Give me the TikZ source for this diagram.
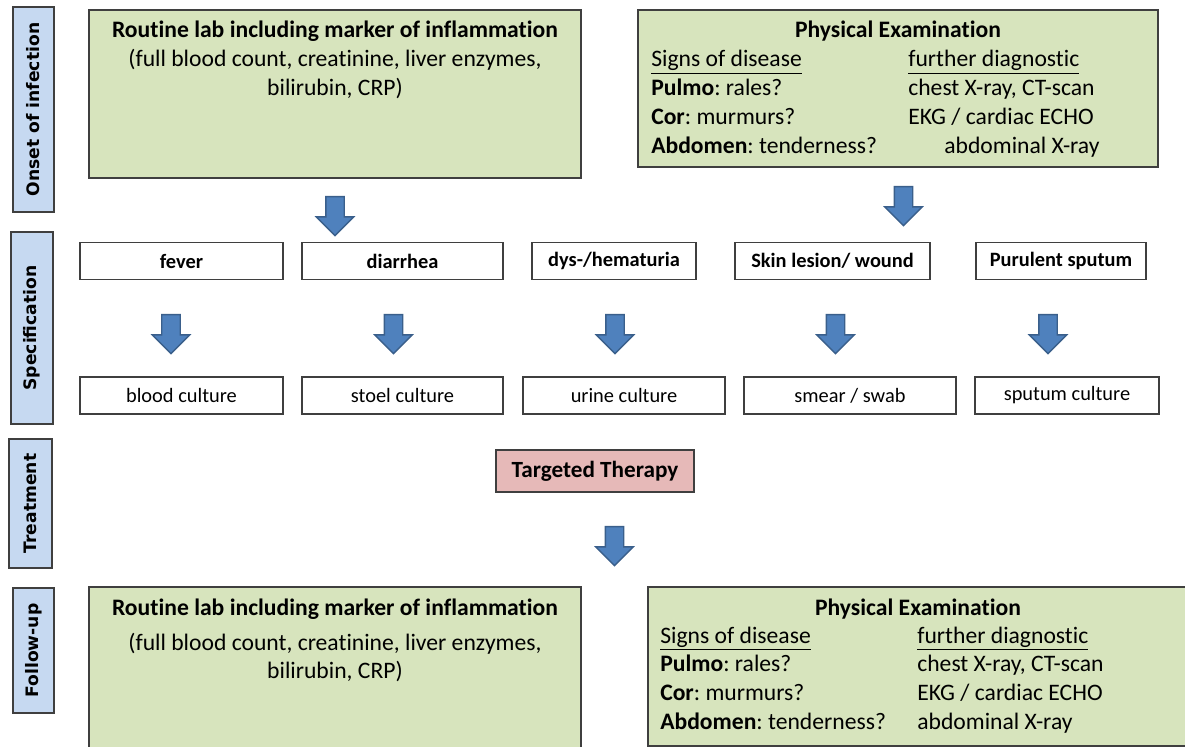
\documentclass[tikz,border=0pt]{standalone}
\usepackage{fontspec}
\setmainfont{Carlito}[Ligatures=NoCommon]
\newfontfamily\phasefont{DejaVu Sans}
\usetikzlibrary{shapes.arrows}
\frenchspacing

\definecolor{labgreen}{HTML}{D7E4BD}
\definecolor{phaseblue}{HTML}{C6D9F1}
\definecolor{therapyred}{HTML}{E6B9B8}
\definecolor{arrowblue}{HTML}{4F81BD}
\definecolor{arrowline}{HTML}{3A5F8B}
\definecolor{boxline}{HTML}{3F3F3F}

\begin{document}
\begin{tikzpicture}[x=0.025cm, y=-0.025cm,
        phase/.style={draw=boxline, fill=phaseblue, line width=0.9pt, rotate=90, inner sep=0pt,
            font=\phasefont\bfseries\fontsize{12.2}{14}\selectfont},
        greenbox/.style={draw=boxline, fill=labgreen, line width=0.9pt, inner sep=0pt},
        boxtext/.style={inner sep=0pt, font=\fontsize{16.8}{20.5}\selectfont},
        symptom/.style={draw=boxline, fill=white, line width=0.9pt, minimum height=0.925cm, inner sep=0pt,
            font=\bfseries\fontsize{14.5}{17}\selectfont},
        culture/.style={symptom, font=\fontsize{14.5}{17}\selectfont},
        therapy/.style={draw=boxline, fill=therapyred, line width=0.9pt, minimum width=4.95cm, minimum height=1.05cm,
            inner sep=0pt, font=\bfseries\fontsize{16.5}{20}\selectfont},
        downarrow/.style={single arrow, draw=arrowline, fill=arrowblue, line width=1pt, rotate=-90,
            inner xsep=0pt, inner ysep=0.2125cm, minimum height=0.975cm, minimum width=0.9cm,
            single arrow head extend=0.2375cm}]

        \useasboundingbox (0,0) rectangle (1185,747);

        % phases on the left
        \node[phase, name=onset, minimum width=5.125cm, minimum height=1.025cm] at (33.5,109.5) {Onset of infection};
        \node[phase, name=spec, minimum width=4.8cm, minimum height=1.05cm] at (32,328) {Specification};
        \node[phase, name=treat, minimum width=3.225cm, minimum height=1.075cm] at (30.5,503.5) {Treatment};
        \node[phase, name=follow, minimum width=3.125cm, minimum height=1.025cm] at (33.5,650.5) {Follow-up};

        % onset of infection
        \node[greenbox, name=lab1, minimum width=12.3cm, minimum height=4.2cm] at (335,94) {};
        \node[boxtext, name=lab1text, anchor=base] at (335,38) {\begin{tabular}[t]{c}
                \textbf{Routine lab including marker of inflammation}\\
                (full blood count, creatinine, liver enzymes,\\
                bilirubin, CRP)
            \end{tabular}};
        \node[greenbox, name=pe1, minimum width=13cm, minimum height=3.925cm] at (898,88.5) {};
        \node[boxtext, name=pe1title, anchor=base] at (898,38) {\textbf{Physical Examination}};
        \node[boxtext, name=pe1text, anchor=base west] at (651,67) {\begin{tabular}[t]{@{}p{182.8pt}@{}l@{}}
                \underline{Signs of disease} & \underline{further diagnostic}\\
                \textbf{Pulmo}: rales? & chest X-ray, CT-scan\\
                \textbf{Cor}: murmurs? & EKG / cardiac ECHO\\
                \textbf{Abdomen}: tenderness? & \hspace{25.6pt}abdominal X-ray
            \end{tabular}};
        \node[downarrow, name=arr_lab] at (335,211.5) {};
        \node[downarrow, name=arr_pe] at (903.5,201.5) {};

        % specification
        \foreach \n/\xs/\ws/\ts/\xa/\xc/\wc/\tc in {
                fever/181.5/5.075cm/fever/171/181.5/5.075cm/blood culture,
                diarrhea/402.5/5.025cm/diarrhea/393.5/402.5/5.025cm/stoel culture,
                urine/614/4.1cm/{dys-/hematuria}/615/624/5.05cm/urine culture,
                skin/832.5/4.875cm/{Skin lesion/ wound}/835.5/850/5.3cm/{smear / swab},
                sputum/1061/4.25cm/Purulent sputum/1048/1067/4.6cm/sputum culture}
            {
                \node[name=sym_\n, symptom, minimum width=\ws] at (\xs,261) {\ts};
                \node[name=arr_\n, downarrow] at (\xa,329.5) {};
                \node[name=cul_\n, culture, minimum width=\wc] at (\xc,395.5) {\tc};
            }

        % treatment
        \node[therapy, name=therapy] at (595,471) {Targeted Therapy};
        \node[downarrow, name=arr_therapy] at (614.5,541.5) {};

        % follow-up
        \node[greenbox, name=lab2, minimum width=12.3cm, minimum height=4.575cm] at (335,678.5) {};
        \node[boxtext, name=lab2text, anchor=base] at (335,615) {\begin{tabular}[t]{c}
                \textbf{Routine lab including marker of inflammation}\\[4.4pt]
                (full blood count, creatinine, liver enzymes,\\
                bilirubin, CRP)
            \end{tabular}};
        \node[greenbox, name=pe2, minimum width=13.675cm, minimum height=3.975cm] at (921.5,666.5) {};
        \node[boxtext, name=pe2title, anchor=base] at (918,615) {\textbf{Physical Examination}};
        \node[boxtext, name=pe2text, anchor=base west] at (660,643) {\begin{tabular}[t]{@{}p{182.8pt}@{}l@{}}
                \underline{Signs of disease} & \underline{further diagnostic}\\
                \textbf{Pulmo}: rales? & chest X-ray, CT-scan\\
                \textbf{Cor}: murmurs? & EKG / cardiac ECHO\\
                \textbf{Abdomen}: tenderness? & abdominal X-ray
            \end{tabular}};
    \end{tikzpicture}
\end{document}
